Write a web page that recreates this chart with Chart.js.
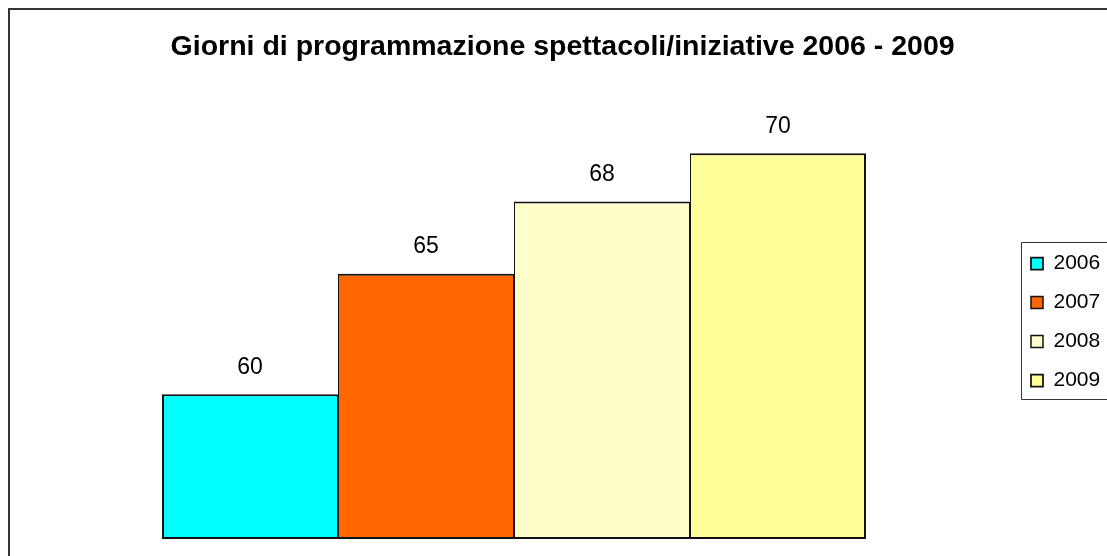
<!DOCTYPE html>
<html lang="it">
<head>
<meta charset="utf-8">
<title>Giorni di programmazione spettacoli/iniziative 2006 - 2009</title>
<script src="https://cdn.jsdelivr.net/npm/chart.js@4.4.1/dist/chart.umd.min.js"></script>
<style>
  html, body { margin: 0; padding: 0; background: #fff; overflow: hidden; }
  .frame {
    position: absolute;
    left: 8px;
    top: 8px;
    width: 1112px;
    height: 546px;
    border-left: 2px solid #333;
    border-top: 2px solid #333;
  }
  .frame canvas { display: block; }
</style>
</head>
<body>
<div class="frame">
  <canvas id="giorni" width="1112" height="546"></canvas>
</div>
<script>
(function () {
  "use strict";

  // data
  var categorie = ["Giorni"];
  var anni = ["2006", "2007", "2008", "2009"];
  var giorni = [60, 65, 68, 70];
  var colori = ["#00ffff", "#ff6600", "#ffffcc", "#ffff99"];
  var scalaY = [54, 72]; // value axis range (axis itself hidden)
  var titolo = "Giorni di programmazione spettacoli/iniziative 2006 - 2009";

  var FONT = "'Liberation Sans', Arial, Helvetica, sans-serif";

  var ultimo = anni.length - 1;
  var datasets = anni.map(function (anno, i) {
    return {
      label: anno,
      data: [giorni[i]],
      base: scalaY[0],
      backgroundColor: colori[i],
      borderColor: "#111",
      // touching bars share one thin edge, outer edges stay 2px
      borderWidth: { top: 2, bottom: 2, left: i === 0 ? 2 : 1, right: i === ultimo ? 2 : 1 },
      borderSkipped: false,
      categoryPercentage: 0.7054,
      barPercentage: 1
    };
  });

  // value labels above each bar
  var valueLabels = {
    id: "valueLabels",
    afterDatasetsDraw: function (chart) {
      var ctx = chart.ctx;
      ctx.save();
      ctx.font = "23px " + FONT;
      ctx.fillStyle = "#000";
      ctx.textAlign = "center";
      ctx.textBaseline = "middle";
      chart.data.datasets.forEach(function (ds, i) {
        chart.getDatasetMeta(i).data.forEach(function (bar, j) {
          ctx.fillText(String(ds.data[j]), bar.x, bar.y - 27);
        });
      });
      ctx.restore();
    }
  };

  // open-ended box round the legend (its right side runs off the picture)
  var legendBox = {
    id: "legendBox",
    afterDraw: function (chart) {
      var boxes = chart.legend && chart.legend.legendHitBoxes;
      if (!boxes || !boxes.length) return;
      var first = boxes[0];
      var last = boxes[boxes.length - 1];
      var ctx = chart.ctx;
      var left = Math.round(first.left - 10) + 0.5;
      var top = Math.round(first.top - 11) + 0.5;
      var bottom = Math.round(last.top + last.height + 8) + 0.5;
      ctx.save();
      ctx.strokeStyle = "#333";
      ctx.lineWidth = 1;
      ctx.beginPath();
      ctx.moveTo(chart.width + 20, top);
      ctx.lineTo(left, top);
      ctx.lineTo(left, bottom);
      ctx.lineTo(chart.width + 20, bottom);
      ctx.stroke();
      ctx.restore();
    }
  };

  new Chart(document.getElementById("giorni"), {
    type: "bar",
    data: { labels: categorie, datasets: datasets },
    plugins: [valueLabels, legendBox],
    options: {
      responsive: false,
      animation: false,
      layout: { padding: { left: 5, right: 11.8, top: 0, bottom: 17 } },
      scales: {
        x: { display: false },
        y: { display: false, min: scalaY[0], max: scalaY[1] }
      },
      plugins: {
        title: {
          display: true,
          text: titolo,
          color: "#000",
          font: { family: FONT, size: 28.5, weight: "bold" },
          padding: { top: 20, bottom: 40.8 }
        },
        legend: {
          position: "right",
          fullSize: false,
          labels: {
            boxWidth: 12,
            boxHeight: 12,
            padding: 18,
            color: "#000",
            font: { family: FONT, size: 21 }
          }
        },
        tooltip: { enabled: false }
      }
    }
  });
})();
</script>
</body>
</html>
